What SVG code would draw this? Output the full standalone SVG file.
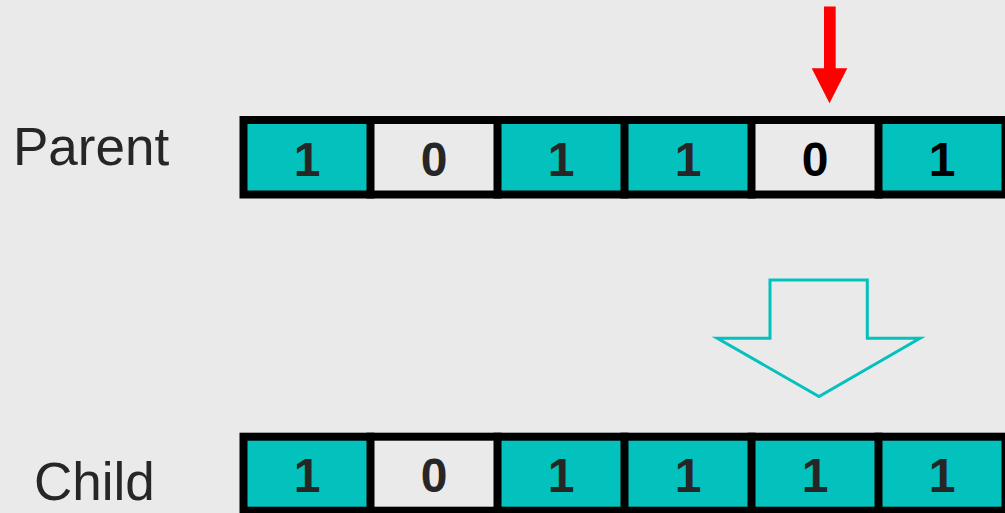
<svg xmlns="http://www.w3.org/2000/svg" width="1005" height="513" viewBox="0 0 1005 513">
<style>
.bg{fill:#EAEAEA}
.on{fill:#03C1BD;stroke:#2aa8a5;stroke-width:1}
.off{fill:#EAEAEA;stroke:#9a9a9a;stroke-width:1}
.frame{fill:none;stroke:#000;stroke-width:8}
.div{stroke:#000;stroke-width:8}
.bit{font-family:"Liberation Sans",Arial,sans-serif;font-weight:bold;font-size:48px;fill:#262626;text-anchor:middle}
.lbl{font-family:"Liberation Sans",Arial,sans-serif;font-size:53px;fill:#262626}
</style>
<rect class="bg" x="0" y="0" width="1005" height="513"/>
<text id="label-parent" class="lbl" x="13" y="165">Parent</text>
<text id="label-child" class="lbl" x="34" y="500">Child</text>
<g id="parent">
  <g id="p1"><rect class="on" x="243.5" y="120" width="127" height="74.5"/><text class="bit" x="307" y="176">1</text></g>
  <g id="p2"><rect class="off" x="370.5" y="120" width="127" height="74.5"/><text class="bit" x="434" y="176">0</text></g>
  <g id="p3"><rect class="on" x="497.5" y="120" width="127" height="74.5"/><text class="bit" x="561" y="176">1</text></g>
  <g id="p4"><rect class="on" x="624.5" y="120" width="127" height="74.5"/><text class="bit" x="688" y="176">1</text></g>
  <g id="p5"><rect class="off" x="751.5" y="120" width="127" height="74.5"/><text class="bit" x="815" y="176" style="fill:#000">0</text></g>
  <g id="p6"><rect class="on" x="878.5" y="120" width="127" height="74.5"/><text class="bit" x="942" y="176" style="fill:#000">1</text></g>
  <rect class="frame" x="243.5" y="120" width="762" height="74.5"/>
  <g class="div"><line x1="370.5" y1="116" x2="370.5" y2="198.5"/><line x1="497.5" y1="116" x2="497.5" y2="198.5"/><line x1="624.5" y1="116" x2="624.5" y2="198.5"/><line x1="751.5" y1="116" x2="751.5" y2="198.5"/><line x1="878.5" y1="116" x2="878.5" y2="198.5"/></g>
</g>
<g id="child">
  <g id="c1"><rect class="on" x="243.5" y="436.7" width="127" height="74"/><text class="bit" x="307" y="492">1</text></g>
  <g id="c2"><rect class="off" x="370.5" y="436.7" width="127" height="74"/><text class="bit" x="434" y="492">0</text></g>
  <g id="c3"><rect class="on" x="497.5" y="436.7" width="127" height="74"/><text class="bit" x="561" y="492">1</text></g>
  <g id="c4"><rect class="on" x="624.5" y="436.7" width="127" height="74"/><text class="bit" x="688" y="492">1</text></g>
  <g id="c5"><rect class="on" x="751.5" y="436.7" width="127" height="74"/><text class="bit" x="815" y="492">1</text></g>
  <g id="c6"><rect class="on" x="878.5" y="436.7" width="127" height="74"/><text class="bit" x="942" y="492">1</text></g>
  <rect class="frame" x="243.5" y="436.7" width="762" height="74"/>
  <g class="div"><line x1="370.5" y1="432.7" x2="370.5" y2="514"/><line x1="497.5" y1="432.7" x2="497.5" y2="514"/><line x1="624.5" y1="432.7" x2="624.5" y2="514"/><line x1="751.5" y1="432.7" x2="751.5" y2="514"/><line x1="878.5" y1="432.7" x2="878.5" y2="514"/></g>
</g>
<g id="connectors">
  <polygon id="mutation-arrow" fill="#FF0000" points="824,6.5 835.7,6.5 835.7,68.3 847.3,68.3 829.5,103.3 811.7,68.3 824,68.3"/>
  <polygon id="inherit-arrow" fill="none" stroke="#03C1BD" stroke-width="3" points="770,280 867.3,280 867.3,338.3 920,338.3 819,396.5 717.3,338.3 770,338.3"/>
</g>
</svg>
